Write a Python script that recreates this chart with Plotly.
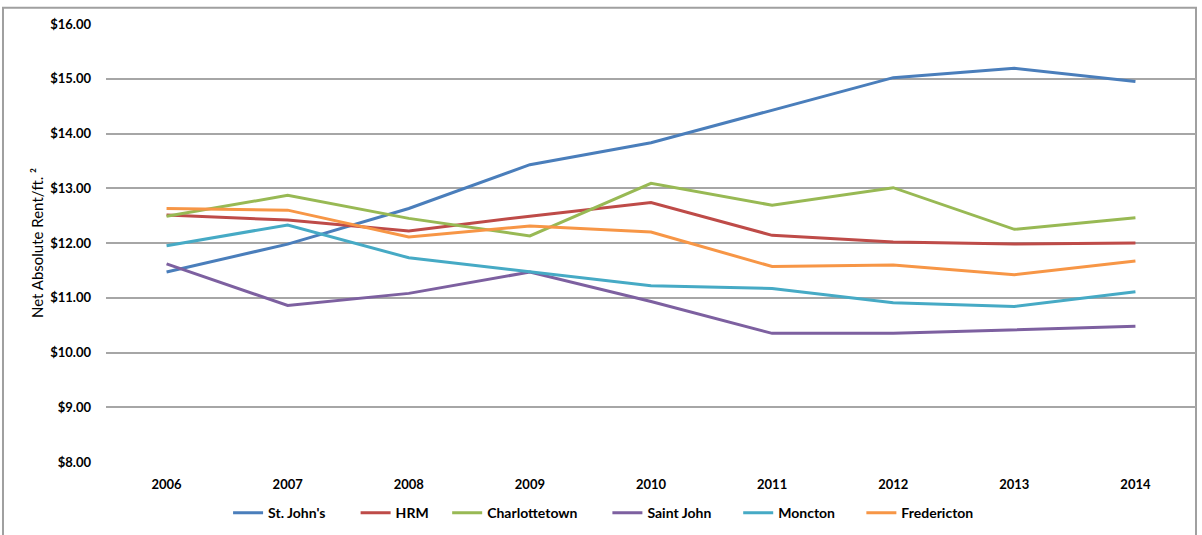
import plotly.graph_objects as go

years = ["2006", "2007", "2008", "2009", "2010", "2011", "2012", "2013", "2014"]
st_johns = [11.47, 11.98, 12.63, 13.43, 13.83, 14.43, 15.02, 15.19, 14.95]
hrm = [12.51, 12.42, 12.22, 12.49, 12.74, 12.14, 12.02, 11.98, 12.00]
charlottetown = [12.49, 12.87, 12.45, 12.13, 13.09, 12.69, 13.01, 12.25, 12.46]
saint_john = [11.62, 10.86, 11.08, 11.47, 10.93, 10.35, 10.35, 10.41, 10.48]
moncton = [11.95, 12.33, 11.73, 11.47, 11.22, 11.17, 10.91, 10.84, 11.11]
fredericton = [12.63, 12.60, 12.11, 12.31, 12.20, 11.57, 11.60, 11.42, 11.67]

series = [
    ("St. John's", st_johns, "#4A7EBB"),
    ("HRM", hrm, "#BE4B48"),
    ("Charlottetown", charlottetown, "#98B954"),
    ("Saint John", saint_john, "#7D60A0"),
    ("Moncton", moncton, "#46AAC5"),
    ("Fredericton", fredericton, "#F79646"),
]
# legend entry left positions (paper fraction of plot width)
legend_x = [0.112, 0.229, 0.313, 0.460, 0.580, 0.693]

FONT = "Lato"
legend_font = dict(family=FONT, size=14, color="#000000", weight="bold")

fig = go.Figure()
layout_legends = {}
for i, (name, vals, color) in enumerate(series):
    key = "legend" if i == 0 else f"legend{i+1}"
    fig.add_trace(go.Scatter(x=years, y=vals, name=name, mode="lines",
                             line=dict(color=color, width=3), legend=key))
    layout_legends[key] = dict(orientation="h", x=legend_x[i], xanchor="left",
                               y=-0.117, yanchor="middle", font=legend_font,
                               bgcolor="rgba(0,0,0,0)")

fig.update_layout(
    width=1202, height=535,
    margin=dict(l=106, r=6, t=24, b=69),
    paper_bgcolor="white", plot_bgcolor="white",
    font=dict(family=FONT, color="#000000"),
    showlegend=True,
    xaxis=dict(type="category", range=[-0.5, 8.5], showgrid=False, showline=False,
               ticks="", tickfont=dict(family=FONT, size=13, weight="bold"),
               ticklabelstandoff=13),
    yaxis=dict(range=[8, 16], dtick=1, tickformat="$.2f", showgrid=True,
               gridcolor="#A6A6A6", gridwidth=1.5, zeroline=False, showline=False,
               ticks="", tickfont=dict(family=FONT, size=13, weight="bold"),
               ticklabelstandoff=14,
               title=dict(text="Net Absolute Rent/ft. ²", font=dict(family=FONT, size=15),
                          standoff=2)),
    shapes=[dict(type="rect", xref="paper", yref="paper", x0=-0.0945, x1=1.0, y0=-0.3, y1=1.037,
                 line=dict(color="#A0A0A0", width=2), fillcolor="rgba(0,0,0,0)", layer="below")],
    **layout_legends,
)

fig.write_html("out.html")
